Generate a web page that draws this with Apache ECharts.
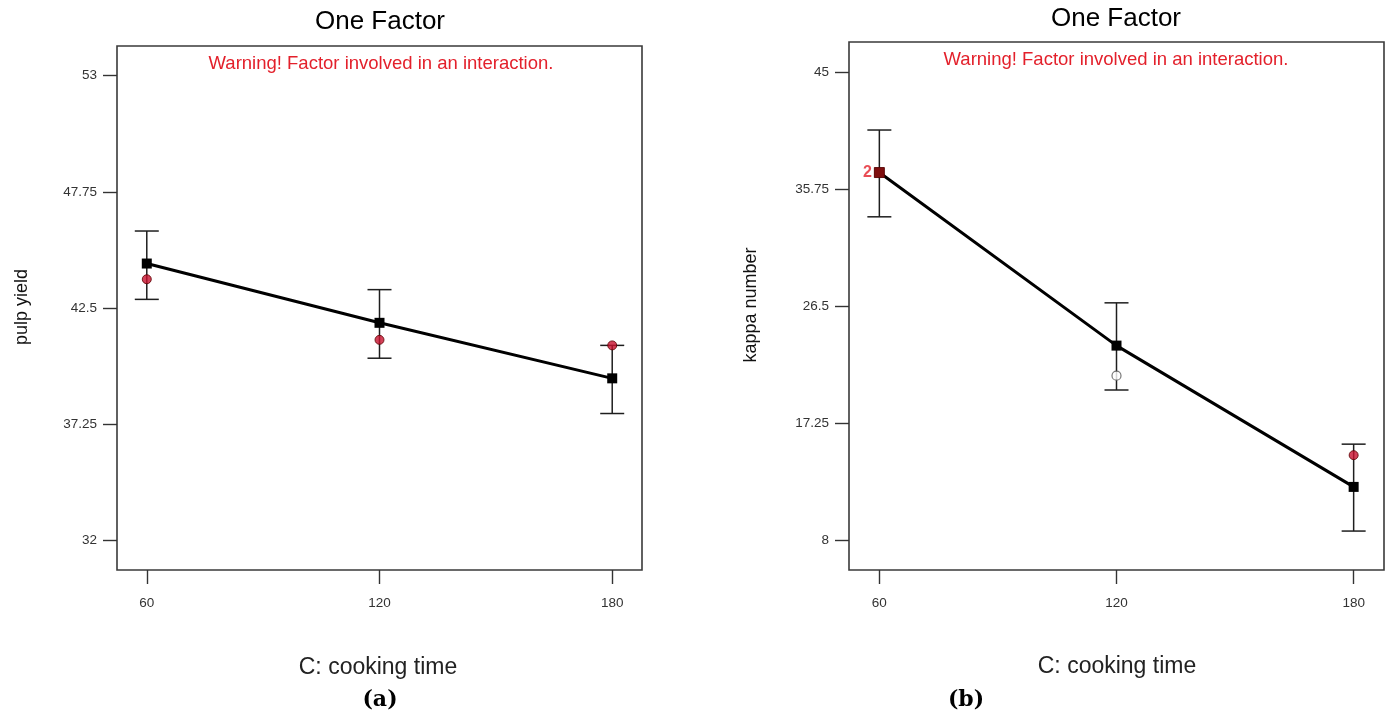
<!DOCTYPE html>
<html>
<head>
<meta charset="utf-8">
<title>One Factor – cooking time</title>
<script src="https://cdn.jsdelivr.net/npm/echarts@6/dist/echarts.min.js"></script>
<style>
  html, body { margin: 0; padding: 0; background: #fff; }
  #chart { width: 1392px; height: 715px; }
</style>
</head>
<body>
<div id="chart"></div>
<script>
// Factor levels (C: cooking time, min)
const cookingTime = [60, 120, 180];
const timeTicks = [60, 120, 180];

// (a) pulp yield: predicted mean with 95% CI bars, and actual design points
const yieldMean   = [44.51, 41.83, 39.32];
const yieldLow    = [42.89, 40.23, 37.73];
const yieldHigh   = [45.98, 43.33, 40.81];
const yieldActual = [43.80, 41.06, 40.81];
const yieldTicks  = [32, 37.25, 42.5, 47.75, 53];

// (b) kappa number
const kappaMean   = [37.05, 23.37, 12.20];
const kappaLow    = [33.55, 19.86, 8.71];
const kappaHigh   = [40.41, 26.75, 15.58];
const kappaActual = [37.05, 20.99, 14.71];
const kappaTicks  = [8, 17.25, 26.5, 35.75, 45];
const kappaRepeats = ['2', '', ''];

const FONT = '"Liberation Sans", Arial, sans-serif';
const RED = '#e3202b';

// axis range padded a little beyond the outer ticks
function padRange(ticks) {
  const lo = ticks[0], hi = ticks[ticks.length - 1];
  const p = (hi - lo) * 0.064;
  return [lo - p, hi + p];
}

const xRange = padRange(timeTicks);
const yRangeA = padRange(yieldTicks);
const yRangeB = padRange(kappaTicks);

function xAxisCfg(gridIndex) {
  return {
    type: 'value', gridIndex, min: xRange[0], max: xRange[1],
    axisLine: { show: false },
    splitLine: { show: false },
    axisTick: { show: true, length: 14, customValues: timeTicks, lineStyle: { color: '#333', width: 1.4 } },
    axisLabel: { customValues: timeTicks, margin: 26, color: '#333', fontSize: 13.5, fontFamily: FONT }
  };
}
function yAxisCfg(gridIndex, range, ticks) {
  return {
    type: 'value', gridIndex, min: range[0], max: range[1],
    axisLine: { show: false },
    splitLine: { show: false },
    axisTick: { show: true, length: 14, customValues: ticks, lineStyle: { color: '#333', width: 1.4 } },
    axisLabel: { customValues: ticks, margin: 20, color: '#333', fontSize: 13.5, fontFamily: FONT }
  };
}

// vertical interval bar with horizontal caps
function errorBarSeries(idx, low, high) {
  return {
    type: 'custom', xAxisIndex: idx, yAxisIndex: idx, z: 2,
    data: cookingTime.map((t, i) => [t, low[i], high[i]]),
    renderItem: function (params, api) {
      const top = api.coord([api.value(0), api.value(2)]);
      const bot = api.coord([api.value(0), api.value(1)]);
      const half = 12;
      const style = { stroke: '#1e1e1e', lineWidth: 1.5 };
      return {
        type: 'group',
        children: [
          { type: 'line', shape: { x1: top[0], y1: top[1], x2: bot[0], y2: bot[1] }, style },
          { type: 'line', shape: { x1: top[0] - half, y1: top[1], x2: top[0] + half, y2: top[1] }, style },
          { type: 'line', shape: { x1: bot[0] - half, y1: bot[1], x2: bot[0] + half, y2: bot[1] }, style }
        ]
      };
    }
  };
}

function meanSeries(idx, mean) {
  return {
    type: 'line', xAxisIndex: idx, yAxisIndex: idx, z: 3,
    data: cookingTime.map((t, i) => [t, mean[i]]),
    symbol: 'rect', symbolSize: 10, showSymbol: true,
    lineStyle: { color: '#000', width: 3 },
    itemStyle: { color: '#000' },
    animation: false
  };
}

const actualA = cookingTime.map((t, i) => ({
  value: [t, yieldActual[i]],
  itemStyle: { color: '#c8102e', borderColor: '#5a0000', borderWidth: 1 }
}));

const actualB = cookingTime.map((t, i) => {
  const pt = { value: [t, kappaActual[i]] };
  if (i === 0) {
    pt.symbol = 'rect';
    pt.symbolSize = 10;
    pt.itemStyle = { color: '#9e1111', borderColor: '#5a0000', borderWidth: 1 };
    pt.label = { show: true, position: 'left', distance: 2, formatter: kappaRepeats[i],
                 color: RED, fontSize: 16, fontWeight: 'bold', fontFamily: FONT };
  } else if (i === 1) {
    pt.itemStyle = { color: '#fff', borderColor: '#555', borderWidth: 1.2 };
  } else {
    pt.itemStyle = { color: '#c8102e', borderColor: '#5a0000', borderWidth: 1 };
  }
  return pt;
});

function txt(x, y, text, font, fill, rotation) {
  return {
    type: 'text', x, y, rotation: rotation || 0, silent: true,
    style: { text, font, fill: fill || '#111', align: 'center', verticalAlign: 'middle' }
  };
}

const option = {
  animation: false,
  backgroundColor: '#fff',
  grid: [
    { left: 117, top: 46, width: 525, height: 524, show: true, borderColor: '#3a3a3a', borderWidth: 1.6, backgroundColor: 'transparent' },
    { left: 849, top: 42, width: 535, height: 528, show: true, borderColor: '#3a3a3a', borderWidth: 1.6, backgroundColor: 'transparent' }
  ],
  xAxis: [xAxisCfg(0), xAxisCfg(1)],
  yAxis: [yAxisCfg(0, yRangeA, yieldTicks), yAxisCfg(1, yRangeB, kappaTicks)],
  series: [
    errorBarSeries(0, yieldLow, yieldHigh),
    meanSeries(0, yieldMean),
    { type: 'scatter', xAxisIndex: 0, yAxisIndex: 0, z: 4, symbol: 'circle', symbolSize: 9, data: actualA },
    errorBarSeries(1, kappaLow, kappaHigh),
    meanSeries(1, kappaMean),
    { type: 'scatter', xAxisIndex: 1, yAxisIndex: 1, z: 4, symbol: 'circle', symbolSize: 9, data: actualB }
  ],
  graphic: [
    txt(380, 22, 'One Factor', '26px ' + FONT, '#000'),
    txt(1116, 19, 'One Factor', '26px ' + FONT, '#000'),
    txt(381, 64, 'Warning! Factor involved in an interaction.', '18.5px ' + FONT, RED),
    txt(1116, 60, 'Warning! Factor involved in an interaction.', '18.5px ' + FONT, RED),
    txt(22, 307, 'pulp yield', '18px ' + FONT, '#111', Math.PI / 2),
    txt(751, 305, 'kappa number', '18px ' + FONT, '#111', Math.PI / 2),
    txt(378, 668, 'C: cooking time', '23px ' + FONT, '#222'),
    txt(1117, 667, 'C: cooking time', '23px ' + FONT, '#222'),
    txt(380, 700, '(a)', 'bold 22px "DejaVu Serif", serif', '#000'),
    txt(966, 700, '(b)', 'bold 22px "DejaVu Serif", serif', '#000')
  ]
};

const chart = echarts.init(document.getElementById('chart'), null, { renderer: 'canvas' });
chart.setOption(option);
</script>
</body>
</html>
